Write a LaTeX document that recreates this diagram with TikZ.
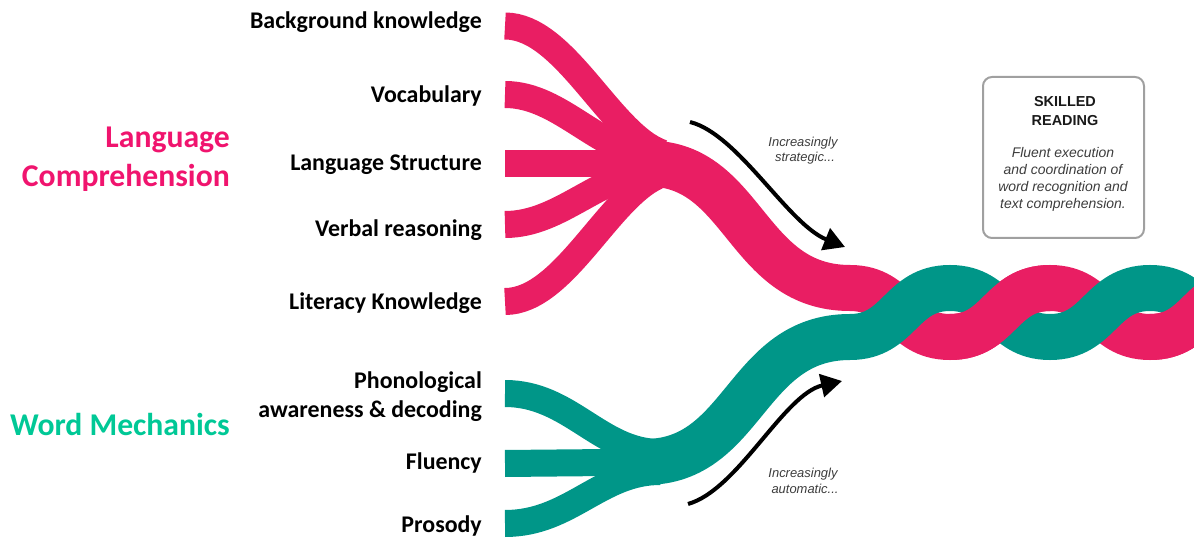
\documentclass[tikz,border=0pt]{standalone}
\usepackage{fontspec}
\setmainfont{Carlito}
\newfontfamily\arialf{Liberation Sans}
\usetikzlibrary{arrows.meta}
\definecolor{pinkc}{HTML}{E91E63}
\definecolor{tealc}{HTML}{009688}
\definecolor{lcpink}{HTML}{F0146E}
\definecolor{wmgreen}{HTML}{00C896}
\definecolor{notegray}{HTML}{3C3C3C}
\definecolor{boxgray}{HTML}{A0A0A0}
\begin{document}
\begin{tikzpicture}[x=1bp,y=-1bp,
  pstrand/.style={draw=pinkc,line width=27bp,line cap=butt},
  tstrand/.style={draw=tealc,line width=27bp,line cap=butt},
  pband/.style={draw=pinkc,line width=46bp,line cap=butt},
  tband/.style={draw=tealc,line width=46bp,line cap=butt},
  lbl/.style={anchor=base east,inner sep=0pt,font=\fontsize{24}{28}\selectfont\bfseries},
  biglbl/.style={anchor=base east,inner sep=0pt,font=\fontsize{31.8}{36}\selectfont\bfseries},
  note/.style={anchor=base,inner sep=0pt,text=notegray,font=\arialf\itshape\fontsize{13}{15}\selectfont},
  boxtitle/.style={anchor=base,inner sep=0pt,text=black!90,font=\arialf\bfseries\fontsize{14.5}{17}\selectfont},
  boxtext/.style={anchor=base,inner sep=0pt,text=notegray,font=\arialf\itshape\fontsize{14}{17}\selectfont},
  trend/.style={line width=4bp,-{Triangle[length=21bp,width=23bp]}}
]
\useasboundingbox (0,0) rectangle (1194,539);
\clip (0,0) rectangle (1194,539);

% ---------- pink strands ----------
\coordinate (p1) at (505,26);
\coordinate (p2) at (505,94.5);
\coordinate (p3) at (505,164);
\coordinate (p4) at (505,224.5);
\coordinate (p5) at (505,301.5);
\coordinate (pj) at (648,163.5);
\coordinate (pb) at (850,288);
\draw[pstrand] (p1) .. controls (565,26) and (610,135) .. (662,153);
\draw[pstrand] (p2) .. controls (562,94.5) and (600,155) .. (662,158);
\draw[pstrand] (p3) -- (662,164);
\draw[pstrand] (p4) .. controls (562,224.5) and (600,172) .. (662,169);
\draw[pstrand] (p5) .. controls (565,301.5) and (610,192) .. (662,174);

% ---------- teal strands ----------
\coordinate (t1) at (505,393.5);
\coordinate (t2) at (505,463.5);
\coordinate (t3) at (505,523.5);
\coordinate (tj) at (645,462);
\coordinate (tb) at (850,337);
\draw[tstrand] (t1) .. controls (570,393.5) and (600,452.5) .. (660,452.5);
\draw[tstrand] (t2) -- (660,462);
\draw[tstrand] (t3) .. controls (570,523.5) and (600,471.5) .. (660,471.5);

% ---------- merged bands and braid ----------
\draw[pband] (pj) .. controls (745,163.5) and (745,288) .. (pb)
  .. controls (900,288) and (900,337) .. (950,337)
  .. controls (1000,337) and (1000,288) .. (1050,288)
  .. controls (1100,288) and (1100,337) .. (1150,337)
  .. controls (1200,337) and (1200,288) .. (1250,288);
\draw[tband] (tj) .. controls (745,462) and (745,337) .. (tb)
  .. controls (900,337) and (900,288) .. (950,288)
  .. controls (1000,288) and (1000,337) .. (1050,337)
  .. controls (1100,337) and (1100,288) .. (1150,288)
  .. controls (1200,288) and (1200,337) .. (1250,337);
% pink strand in front where it rises
\draw[pband] (950,337) .. controls (1000,337) and (1000,288) .. (1050,288);
\draw[pband] (1150,337) .. controls (1200,337) and (1200,288) .. (1250,288);

% ---------- labels ----------
\node[lbl] (bk) at (482,29) {Background knowledge};
\node[lbl] (vo) at (482,103) {Vocabulary};
\node[lbl] (ls) at (482,171) {Language Structure};
\node[lbl] (vr) at (482,237) {Verbal reasoning};
\node[lbl] (lk) at (482,310) {Literacy Knowledge};
\node[lbl] (ph1) at (482,388) {Phonological};
\node[lbl] (ph2) at (482,417) {awareness \& decoding};
\node[lbl] (fl) at (482,469) {Fluency};
\node[lbl] (pr) at (482,532) {Prosody};

\node[biglbl,text=lcpink] (lc1) at (230,148) {Language};
\node[biglbl,text=lcpink] (lc2) at (230,187) {Comprehension};
\node[biglbl,text=wmgreen] (wm) at (230,435) {Word Mechanics};

% ---------- arrows ----------
\coordinate (sa) at (690,122);
\coordinate (se) at (845,247);
\draw[trend] (sa) .. controls (738,134) and (788,224) .. (se);
\node[note] (st1) at (803,147) {Increasingly};
\node[note] (st2) at (805,162) {strategic...};

\coordinate (aa) at (688,504);
\coordinate (ae) at (842,381);
\draw[trend] (aa) .. controls (738,490) and (784,394) .. (ae);
\node[note] (au1) at (803,477) {Increasingly};
\node[note] (au2) at (805,493) {automatic...};

% ---------- skilled reading box ----------
\node[draw=boxgray,line width=2bp,rounded corners=9bp,minimum width=161bp,minimum height=161bp,inner sep=0pt] (box) at (1063.5,157.5) {};
\node[boxtitle] (sk1) at (1065,107) {SKILLED};
\node[boxtitle] (sk2) at (1065,125.5) {READING};
\node[boxtext] (bt1) at (1063,158) {Fluent execution};
\node[boxtext] (bt2) at (1063,175) {and coordination of};
\node[boxtext] (bt3) at (1063,192) {word recognition and};
\node[boxtext] (bt4) at (1063,209) {text comprehension.};
\end{tikzpicture}
\end{document}
